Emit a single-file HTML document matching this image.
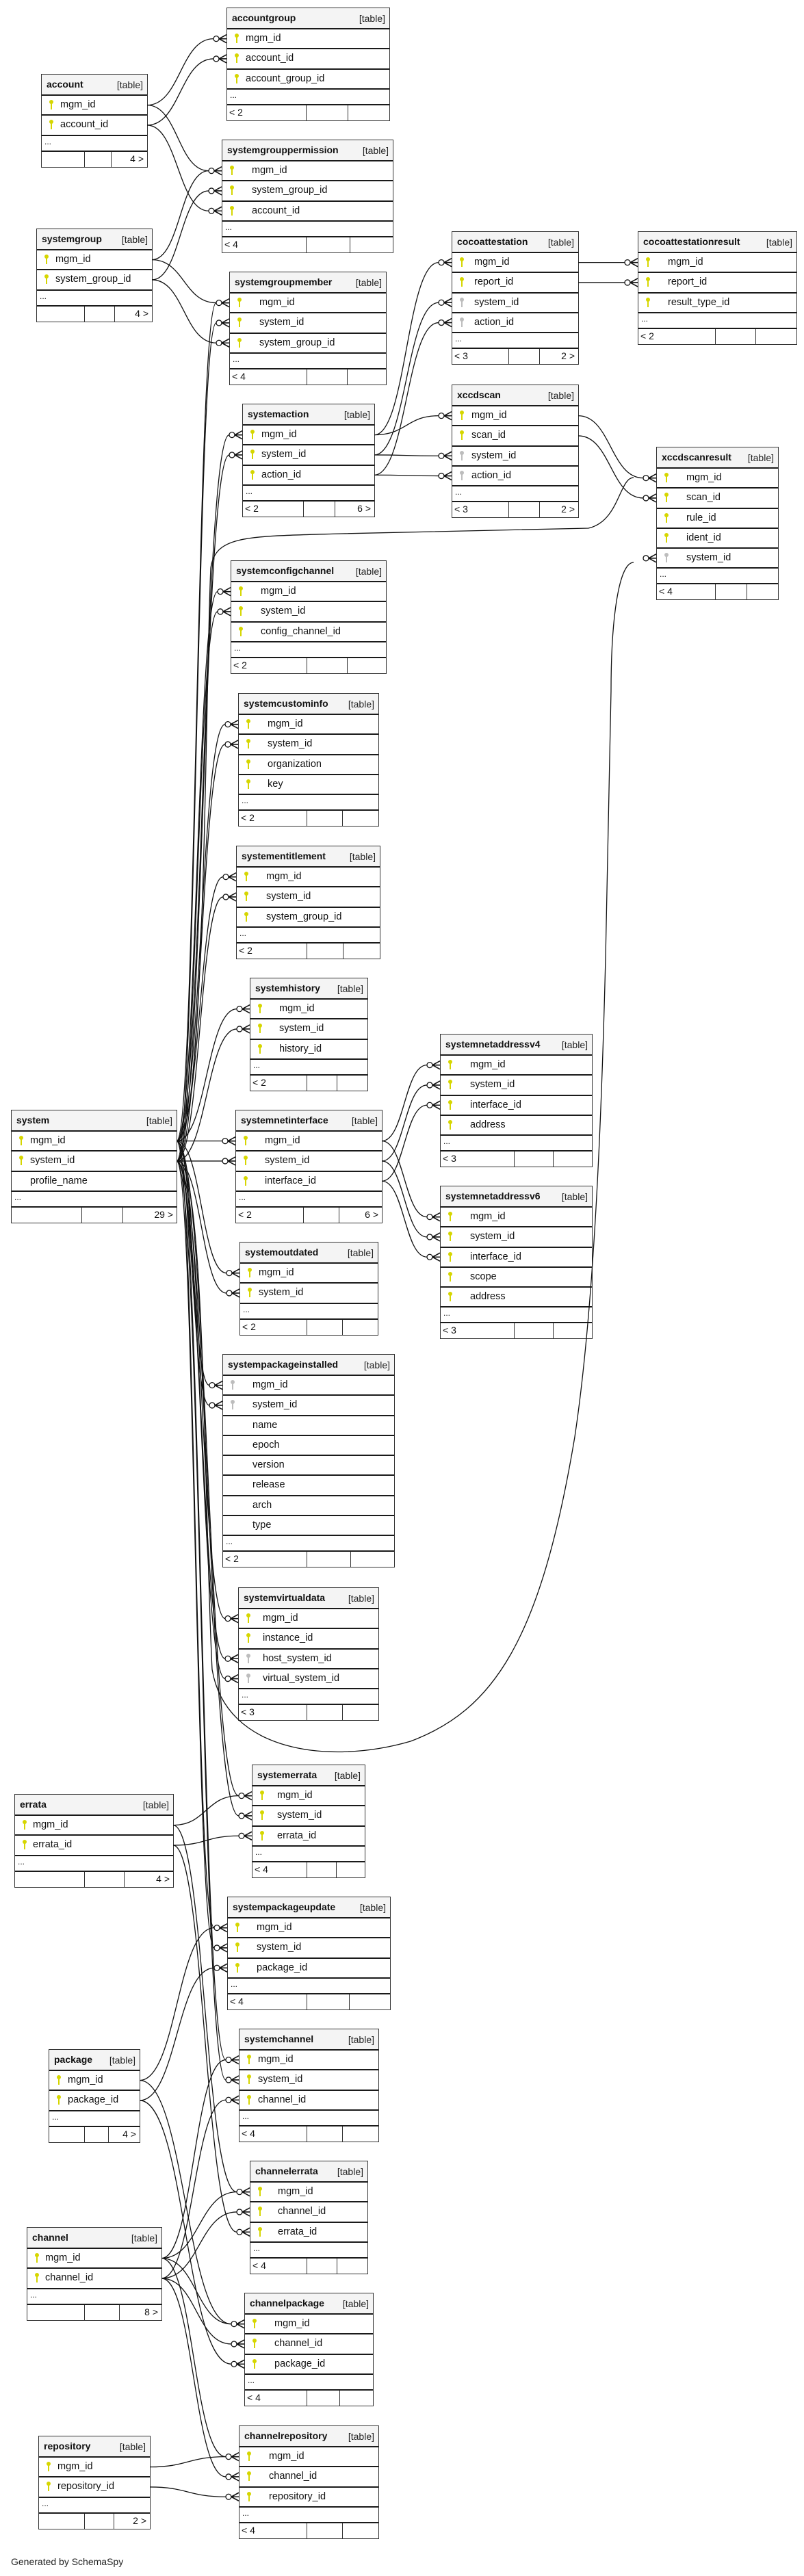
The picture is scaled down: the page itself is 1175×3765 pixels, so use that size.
<!DOCTYPE html>
<html><head><meta charset="utf-8"><style>
html,body{margin:0;padding:0;background:#fff;}
body{width:1175px;height:3765px;position:relative;overflow:hidden;font-family:"Liberation Sans","DejaVu Sans",sans-serif;color:#111;}
svg#c{position:absolute;left:0;top:0;z-index:2;}
.t{position:absolute;border:1.5px solid #333;background:#fff;box-sizing:border-box;z-index:1;}
.h{height:29px;background:#f4f4f4;position:relative;box-sizing:border-box;}
.h b{position:absolute;left:7px;top:6px;font-size:14px;font-weight:bold;}
.h s{position:absolute;right:6px;top:7px;font-size:14px;text-decoration:none;color:#222;}
.r{height:29.3px;border-top:2px solid #1a1a1a;position:relative;box-sizing:border-box;font-size:14.5px;}
.r span{position:absolute;left:var(--i);top:5px;white-space:nowrap;}
.k{position:absolute;left:11px;top:6px;width:6px;height:6px;border-radius:50%;background:#d6d600;}
.k::after{content:"";position:absolute;left:2px;top:5px;width:2px;height:9px;background:#d6d600;}
.g,.g::after{background:#bdbdbd;}
.d{height:23px;border-top:2px solid #1a1a1a;box-sizing:border-box;font-size:12px;padding-left:4px;line-height:16px;}
.f{height:24px;border-top:2px solid #1a1a1a;box-sizing:border-box;display:flex;font-size:14px;}
.f i{font-style:normal;border-right:1.5px solid #333;box-sizing:border-box;padding-left:3px;line-height:21px;white-space:nowrap;}
.f i:last-child{border-right:none;flex:1;text-align:right;padding-right:5px;}
.gen{position:absolute;left:16px;top:3736px;font-size:14px;color:#222;}
</style></head><body>
<svg id="c" width="1175" height="3765" xmlns="http://www.w3.org/2000/svg" fill="none" stroke="#111" stroke-width="1.3">
<path d="M259,1667 C300,1667 300,1000 308,830 C315,782 360,784 500,780 L860,772 C905,762 905,698 926,698"/>
<path d="M259,1696 C300,1696 298,2200 310,2440 C330,2560 480,2580 600,2545 C720,2500 790,2400 840,2100 C870,1900 880,1600 885,1400 L893,1010 C893,900 905,822 926,822"/>
</svg>

<div class="t" style="left:331px;top:11px;width:239px;--i:27px"><div class="h"><b>accountgroup</b><s>[table]</s></div>
<div class="r" id="accountgroup-mgm_id"><i class="k"></i><span>mgm_id</span></div>
<div class="r" id="accountgroup-account_id"><i class="k"></i><span>account_id</span></div>
<div class="r"><i class="k"></i><span>account_group_id</span></div>
<div class="d">...</div><div class="f"><i style="width:116px">&lt; 2</i><i style="width:61px"></i><i></i></div></div>

<div class="t" style="left:60px;top:108px;width:156px;--i:27px"><div class="h"><b>account</b><s>[table]</s></div>
<div class="r" id="account-mgm_id"><i class="k"></i><span>mgm_id</span></div>
<div class="r" id="account-account_id"><i class="k"></i><span>account_id</span></div>
<div class="d">...</div><div class="f"><i style="width:63px"></i><i style="width:39px"></i><i>4 &gt;</i></div></div>

<div class="t" style="left:324px;top:204px;width:251px;--i:43px"><div class="h"><b>systemgrouppermission</b><s>[table]</s></div>
<div class="r" id="systemgrouppermission-mgm_id"><i class="k"></i><span>mgm_id</span></div>
<div class="r" id="systemgrouppermission-system_group_id"><i class="k"></i><span>system_group_id</span></div>
<div class="r" id="systemgrouppermission-account_id"><i class="k"></i><span>account_id</span></div>
<div class="d">...</div><div class="f"><i style="width:123px">&lt; 4</i><i style="width:64px"></i><i></i></div></div>

<div class="t" style="left:53px;top:334px;width:170px;--i:27px"><div class="h"><b>systemgroup</b><s>[table]</s></div>
<div class="r" id="systemgroup-mgm_id"><i class="k"></i><span>mgm_id</span></div>
<div class="r" id="systemgroup-system_group_id"><i class="k"></i><span>system_group_id</span></div>
<div class="d">...</div><div class="f"><i style="width:70px"></i><i style="width:44px"></i><i>4 &gt;</i></div></div>

<div class="t" style="left:335px;top:397px;width:230px;--i:43px"><div class="h"><b>systemgroupmember</b><s>[table]</s></div>
<div class="r" id="systemgroupmember-mgm_id"><i class="k"></i><span>mgm_id</span></div>
<div class="r" id="systemgroupmember-system_id"><i class="k"></i><span>system_id</span></div>
<div class="r" id="systemgroupmember-system_group_id"><i class="k"></i><span>system_group_id</span></div>
<div class="d">...</div><div class="f"><i style="width:113px">&lt; 4</i><i style="width:59px"></i><i></i></div></div>

<div class="t" style="left:660px;top:338px;width:186px;--i:32px"><div class="h"><b>cocoattestation</b><s>[table]</s></div>
<div class="r" id="cocoattestation-mgm_id"><i class="k"></i><span>mgm_id</span></div>
<div class="r" id="cocoattestation-report_id"><i class="k"></i><span>report_id</span></div>
<div class="r" id="cocoattestation-system_id"><i class="k g"></i><span>system_id</span></div>
<div class="r" id="cocoattestation-action_id"><i class="k g"></i><span>action_id</span></div>
<div class="d">...</div><div class="f"><i style="width:83px">&lt; 3</i><i style="width:45px"></i><i>2 &gt;</i></div></div>

<div class="t" style="left:932px;top:338px;width:233px;--i:43px"><div class="h"><b>cocoattestationresult</b><s>[table]</s></div>
<div class="r" id="cocoattestationresult-mgm_id"><i class="k"></i><span>mgm_id</span></div>
<div class="r" id="cocoattestationresult-report_id"><i class="k"></i><span>report_id</span></div>
<div class="r"><i class="k"></i><span>result_type_id</span></div>
<div class="d">...</div><div class="f"><i style="width:113px">&lt; 2</i><i style="width:59px"></i><i></i></div></div>

<div class="t" style="left:660px;top:562px;width:186px;--i:28px"><div class="h"><b>xccdscan</b><s>[table]</s></div>
<div class="r" id="xccdscan-mgm_id"><i class="k"></i><span>mgm_id</span></div>
<div class="r" id="xccdscan-scan_id"><i class="k"></i><span>scan_id</span></div>
<div class="r" id="xccdscan-system_id"><i class="k g"></i><span>system_id</span></div>
<div class="r" id="xccdscan-action_id"><i class="k g"></i><span>action_id</span></div>
<div class="d">...</div><div class="f"><i style="width:83px">&lt; 3</i><i style="width:45px"></i><i>2 &gt;</i></div></div>

<div class="t" style="left:959px;top:653px;width:179px;--i:43px"><div class="h"><b>xccdscanresult</b><s>[table]</s></div>
<div class="r" id="xccdscanresult-mgm_id"><i class="k"></i><span>mgm_id</span></div>
<div class="r" id="xccdscanresult-scan_id"><i class="k"></i><span>scan_id</span></div>
<div class="r"><i class="k"></i><span>rule_id</span></div>
<div class="r"><i class="k"></i><span>ident_id</span></div>
<div class="r" id="xccdscanresult-system_id"><i class="k g"></i><span>system_id</span></div>
<div class="d">...</div><div class="f"><i style="width:86px">&lt; 4</i><i style="width:46px"></i><i></i></div></div>

<div class="t" style="left:354px;top:590px;width:194px;--i:27px"><div class="h"><b>systemaction</b><s>[table]</s></div>
<div class="r" id="systemaction-mgm_id"><i class="k"></i><span>mgm_id</span></div>
<div class="r" id="systemaction-system_id"><i class="k"></i><span>system_id</span></div>
<div class="r" id="systemaction-action_id"><i class="k"></i><span>action_id</span></div>
<div class="d">...</div><div class="f"><i style="width:89px">&lt; 2</i><i style="width:46px"></i><i>6 &gt;</i></div></div>

<div class="t" style="left:337px;top:819px;width:228px;--i:43px"><div class="h"><b>systemconfigchannel</b><s>[table]</s></div>
<div class="r" id="systemconfigchannel-mgm_id"><i class="k"></i><span>mgm_id</span></div>
<div class="r" id="systemconfigchannel-system_id"><i class="k"></i><span>system_id</span></div>
<div class="r"><i class="k"></i><span>config_channel_id</span></div>
<div class="d">...</div><div class="f"><i style="width:111px">&lt; 2</i><i style="width:59px"></i><i></i></div></div>

<div class="t" style="left:348px;top:1013px;width:206px;--i:42px"><div class="h"><b>systemcustominfo</b><s>[table]</s></div>
<div class="r" id="systemcustominfo-mgm_id"><i class="k"></i><span>mgm_id</span></div>
<div class="r" id="systemcustominfo-system_id"><i class="k"></i><span>system_id</span></div>
<div class="r"><i class="k"></i><span>organization</span></div>
<div class="r"><i class="k"></i><span>key</span></div>
<div class="d">...</div><div class="f"><i style="width:100px">&lt; 2</i><i style="width:52px"></i><i></i></div></div>

<div class="t" style="left:345px;top:1236px;width:211px;--i:43px"><div class="h"><b>systementitlement</b><s>[table]</s></div>
<div class="r" id="systementitlement-mgm_id"><i class="k"></i><span>mgm_id</span></div>
<div class="r" id="systementitlement-system_id"><i class="k"></i><span>system_id</span></div>
<div class="r"><i class="k"></i><span>system_group_id</span></div>
<div class="d">...</div><div class="f"><i style="width:103px">&lt; 2</i><i style="width:53px"></i><i></i></div></div>

<div class="t" style="left:365px;top:1429px;width:173px;--i:42px"><div class="h"><b>systemhistory</b><s>[table]</s></div>
<div class="r" id="systemhistory-mgm_id"><i class="k"></i><span>mgm_id</span></div>
<div class="r" id="systemhistory-system_id"><i class="k"></i><span>system_id</span></div>
<div class="r"><i class="k"></i><span>history_id</span></div>
<div class="d">...</div><div class="f"><i style="width:83px">&lt; 2</i><i style="width:44px"></i><i></i></div></div>

<div class="t" style="left:643px;top:1511px;width:223px;--i:43px"><div class="h"><b>systemnetaddressv4</b><s>[table]</s></div>
<div class="r" id="systemnetaddressv4-mgm_id"><i class="k"></i><span>mgm_id</span></div>
<div class="r" id="systemnetaddressv4-system_id"><i class="k"></i><span>system_id</span></div>
<div class="r" id="systemnetaddressv4-interface_id"><i class="k"></i><span>interface_id</span></div>
<div class="r"><i class="k"></i><span>address</span></div>
<div class="d">...</div><div class="f"><i style="width:108px">&lt; 3</i><i style="width:57px"></i><i></i></div></div>

<div class="t" style="left:16px;top:1622px;width:243px;--i:27px"><div class="h"><b>system</b><s>[table]</s></div>
<div class="r" id="system-mgm_id"><i class="k"></i><span>mgm_id</span></div>
<div class="r" id="system-system_id"><i class="k"></i><span>system_id</span></div>
<div class="r"><span>profile_name</span></div>
<div class="d">...</div><div class="f"><i style="width:103px"></i><i style="width:60px"></i><i>29 &gt;</i></div></div>

<div class="t" style="left:344px;top:1622px;width:215px;--i:42px"><div class="h"><b>systemnetinterface</b><s>[table]</s></div>
<div class="r" id="systemnetinterface-mgm_id"><i class="k"></i><span>mgm_id</span></div>
<div class="r" id="systemnetinterface-system_id"><i class="k"></i><span>system_id</span></div>
<div class="r" id="systemnetinterface-interface_id"><i class="k"></i><span>interface_id</span></div>
<div class="d">...</div><div class="f"><i style="width:99px">&lt; 2</i><i style="width:52px"></i><i>6 &gt;</i></div></div>

<div class="t" style="left:643px;top:1733px;width:223px;--i:43px"><div class="h"><b>systemnetaddressv6</b><s>[table]</s></div>
<div class="r" id="systemnetaddressv6-mgm_id"><i class="k"></i><span>mgm_id</span></div>
<div class="r" id="systemnetaddressv6-system_id"><i class="k"></i><span>system_id</span></div>
<div class="r" id="systemnetaddressv6-interface_id"><i class="k"></i><span>interface_id</span></div>
<div class="r"><i class="k"></i><span>scope</span></div>
<div class="r"><i class="k"></i><span>address</span></div>
<div class="d">...</div><div class="f"><i style="width:108px">&lt; 3</i><i style="width:57px"></i><i></i></div></div>

<div class="t" style="left:350px;top:1815px;width:203px;--i:27px"><div class="h"><b>systemoutdated</b><s>[table]</s></div>
<div class="r" id="systemoutdated-mgm_id"><i class="k"></i><span>mgm_id</span></div>
<div class="r" id="systemoutdated-system_id"><i class="k"></i><span>system_id</span></div>
<div class="d">...</div><div class="f"><i style="width:98px">&lt; 2</i><i style="width:52px"></i><i></i></div></div>

<div class="t" style="left:325px;top:1979px;width:252px;--i:43px"><div class="h"><b>systempackageinstalled</b><s>[table]</s></div>
<div class="r" id="systempackageinstalled-mgm_id"><i class="k g"></i><span>mgm_id</span></div>
<div class="r" id="systempackageinstalled-system_id"><i class="k g"></i><span>system_id</span></div>
<div class="r"><span>name</span></div>
<div class="r"><span>epoch</span></div>
<div class="r"><span>version</span></div>
<div class="r"><span>release</span></div>
<div class="r"><span>arch</span></div>
<div class="r"><span>type</span></div>
<div class="d">...</div><div class="f"><i style="width:123px">&lt; 2</i><i style="width:64px"></i><i></i></div></div>

<div class="t" style="left:348px;top:2320px;width:206px;--i:35px"><div class="h"><b>systemvirtualdata</b><s>[table]</s></div>
<div class="r" id="systemvirtualdata-mgm_id"><i class="k"></i><span>mgm_id</span></div>
<div class="r"><i class="k"></i><span>instance_id</span></div>
<div class="r" id="systemvirtualdata-host_system_id"><i class="k g"></i><span>host_system_id</span></div>
<div class="r" id="systemvirtualdata-virtual_system_id"><i class="k g"></i><span>virtual_system_id</span></div>
<div class="d">...</div><div class="f"><i style="width:100px">&lt; 3</i><i style="width:52px"></i><i></i></div></div>

<div class="t" style="left:368px;top:2579px;width:166px;--i:36px"><div class="h"><b>systemerrata</b><s>[table]</s></div>
<div class="r" id="systemerrata-mgm_id"><i class="k"></i><span>mgm_id</span></div>
<div class="r" id="systemerrata-system_id"><i class="k"></i><span>system_id</span></div>
<div class="r" id="systemerrata-errata_id"><i class="k"></i><span>errata_id</span></div>
<div class="d">...</div><div class="f"><i style="width:80px">&lt; 4</i><i style="width:43px"></i><i></i></div></div>

<div class="t" style="left:21px;top:2622px;width:233px;--i:26px"><div class="h"><b>errata</b><s>[table]</s></div>
<div class="r" id="errata-mgm_id"><i class="k"></i><span>mgm_id</span></div>
<div class="r" id="errata-errata_id"><i class="k"></i><span>errata_id</span></div>
<div class="d">...</div><div class="f"><i style="width:102px"></i><i style="width:58px"></i><i>4 &gt;</i></div></div>

<div class="t" style="left:332px;top:2772px;width:239px;--i:42px"><div class="h"><b>systempackageupdate</b><s>[table]</s></div>
<div class="r" id="systempackageupdate-mgm_id"><i class="k"></i><span>mgm_id</span></div>
<div class="r" id="systempackageupdate-system_id"><i class="k"></i><span>system_id</span></div>
<div class="r" id="systempackageupdate-package_id"><i class="k"></i><span>package_id</span></div>
<div class="d">...</div><div class="f"><i style="width:116px">&lt; 4</i><i style="width:62px"></i><i></i></div></div>

<div class="t" style="left:349px;top:2965px;width:205px;--i:27px"><div class="h"><b>systemchannel</b><s>[table]</s></div>
<div class="r" id="systemchannel-mgm_id"><i class="k"></i><span>mgm_id</span></div>
<div class="r" id="systemchannel-system_id"><i class="k"></i><span>system_id</span></div>
<div class="r" id="systemchannel-channel_id"><i class="k"></i><span>channel_id</span></div>
<div class="d">...</div><div class="f"><i style="width:99px">&lt; 4</i><i style="width:52px"></i><i></i></div></div>

<div class="t" style="left:71px;top:2995px;width:134px;--i:27px"><div class="h"><b>package</b><s>[table]</s></div>
<div class="r" id="package-mgm_id"><i class="k"></i><span>mgm_id</span></div>
<div class="r" id="package-package_id"><i class="k"></i><span>package_id</span></div>
<div class="d">...</div><div class="f"><i style="width:52px"></i><i style="width:35px"></i><i>4 &gt;</i></div></div>

<div class="t" style="left:365px;top:3158px;width:173px;--i:40px"><div class="h"><b>channelerrata</b><s>[table]</s></div>
<div class="r" id="channelerrata-mgm_id"><i class="k"></i><span>mgm_id</span></div>
<div class="r" id="channelerrata-channel_id"><i class="k"></i><span>channel_id</span></div>
<div class="r" id="channelerrata-errata_id"><i class="k"></i><span>errata_id</span></div>
<div class="d">...</div><div class="f"><i style="width:83px">&lt; 4</i><i style="width:44px"></i><i></i></div></div>

<div class="t" style="left:39px;top:3255px;width:198px;--i:26px"><div class="h"><b>channel</b><s>[table]</s></div>
<div class="r" id="channel-mgm_id"><i class="k"></i><span>mgm_id</span></div>
<div class="r" id="channel-channel_id"><i class="k"></i><span>channel_id</span></div>
<div class="d">...</div><div class="f"><i style="width:84px"></i><i style="width:51px"></i><i>8 &gt;</i></div></div>

<div class="t" style="left:357px;top:3351px;width:189px;--i:43px"><div class="h"><b>channelpackage</b><s>[table]</s></div>
<div class="r" id="channelpackage-mgm_id"><i class="k"></i><span>mgm_id</span></div>
<div class="r" id="channelpackage-channel_id"><i class="k"></i><span>channel_id</span></div>
<div class="r" id="channelpackage-package_id"><i class="k"></i><span>package_id</span></div>
<div class="d">...</div><div class="f"><i style="width:91px">&lt; 4</i><i style="width:48px"></i><i></i></div></div>

<div class="t" style="left:349px;top:3545px;width:205px;--i:43px"><div class="h"><b>channelrepository</b><s>[table]</s></div>
<div class="r" id="channelrepository-mgm_id"><i class="k"></i><span>mgm_id</span></div>
<div class="r" id="channelrepository-channel_id"><i class="k"></i><span>channel_id</span></div>
<div class="r" id="channelrepository-repository_id"><i class="k"></i><span>repository_id</span></div>
<div class="d">...</div><div class="f"><i style="width:99px">&lt; 4</i><i style="width:52px"></i><i></i></div></div>

<div class="t" style="left:56px;top:3560px;width:164px;--i:27px"><div class="h"><b>repository</b><s>[table]</s></div>
<div class="r" id="repository-mgm_id"><i class="k"></i><span>mgm_id</span></div>
<div class="r" id="repository-repository_id"><i class="k"></i><span>repository_id</span></div>
<div class="d">...</div><div class="f"><i style="width:67px"></i><i style="width:43px"></i><i>2 &gt;</i></div></div>

<div class="gen">Generated by SchemaSpy</div>

<script>
(function(){
var E=[];
function a(p,cs){cs.forEach(function(c){E.push([p,c]);});}
a("account-mgm_id",["accountgroup-mgm_id","systemgrouppermission-mgm_id"]);
a("account-account_id",["accountgroup-account_id","systemgrouppermission-account_id"]);
a("systemgroup-mgm_id",["systemgrouppermission-mgm_id","systemgroupmember-mgm_id"]);
a("systemgroup-system_group_id",["systemgrouppermission-system_group_id","systemgroupmember-system_group_id"]);
var st=["systemgroupmember","systemaction","systemconfigchannel","systemcustominfo","systementitlement","systemhistory","systemnetinterface","systemoutdated","systempackageinstalled","systemvirtualdata","systemerrata","systempackageupdate","systemchannel"];
st.forEach(function(t){E.push(["system-mgm_id",t+"-mgm_id"]);if(t!="systemvirtualdata")E.push(["system-system_id",t+"-system_id"]);});
E.push(["system-system_id","systemvirtualdata-host_system_id"]);
E.push(["system-system_id","systemvirtualdata-virtual_system_id"]);
["mgm_id","system_id","action_id"].forEach(function(c){E.push(["systemaction-"+c,"cocoattestation-"+c]);E.push(["systemaction-"+c,"xccdscan-"+c]);});
E.push(["cocoattestation-mgm_id","cocoattestationresult-mgm_id"]);
E.push(["cocoattestation-report_id","cocoattestationresult-report_id"]);
E.push(["xccdscan-mgm_id","xccdscanresult-mgm_id"]);
E.push(["xccdscan-scan_id","xccdscanresult-scan_id"]);
["mgm_id","system_id","interface_id"].forEach(function(c){E.push(["systemnetinterface-"+c,"systemnetaddressv4-"+c]);E.push(["systemnetinterface-"+c,"systemnetaddressv6-"+c]);});
["mgm_id","errata_id"].forEach(function(c){E.push(["errata-"+c,"systemerrata-"+c]);E.push(["errata-"+c,"channelerrata-"+c]);});
["mgm_id","package_id"].forEach(function(c){E.push(["package-"+c,"systempackageupdate-"+c]);E.push(["package-"+c,"channelpackage-"+c]);});
["mgm_id","channel_id"].forEach(function(c){["systemchannel","channelerrata","channelpackage","channelrepository"].forEach(function(t){E.push(["channel-"+c,t+"-"+c]);});});
E.push(["repository-mgm_id","channelrepository-mgm_id"]);
E.push(["repository-repository_id","channelrepository-repository_id"]);
var svg=document.getElementById("c"),NS="http://www.w3.org/2000/svg",s="";
function R(id){var e=document.getElementById(id);if(!e)return null;var r=e.getBoundingClientRect();return r;}
var ends={};
E.forEach(function(e){var p=R(e[0]),c=R(e[1]);if(!p||!c)return;
var x1=p.right,y1=p.top+p.height/2+1,x2=c.left,y2=c.top+c.height/2+1;var xe=x2-20;
var k=Math.max((xe-x1)*0.5,25);
s+='<path d="M'+x1+','+y1+' C'+(x1+k)+','+y1+' '+(xe-k)+','+y2+' '+xe+','+y2+'"/>';
ends[e[1]]=[x2,y2];});
ends["xccdscanresult-mgm_id"]=ends["xccdscanresult-mgm_id"]||null;
["xccdscanresult-system_id"].forEach(function(id){var c=R(id);if(c)ends[id]=[c.left,c.top+c.height/2+1];});
for(var id in ends){var v=ends[id];if(!v)continue;var x=v[0],y=v[1];
s+='<circle cx="'+(x-16)+'" cy="'+y+'" r="4" fill="#fff"/>';
s+='<path d="M'+(x-12)+','+y+' L'+(x-1)+','+(y-6)+' M'+(x-12)+','+y+' L'+(x-1)+','+y+' M'+(x-12)+','+y+' L'+(x-1)+','+(y+6)+'" stroke-width="1.6"/>';}
svg.insertAdjacentHTML("beforeend",s);
})();
</script>
</body></html>
